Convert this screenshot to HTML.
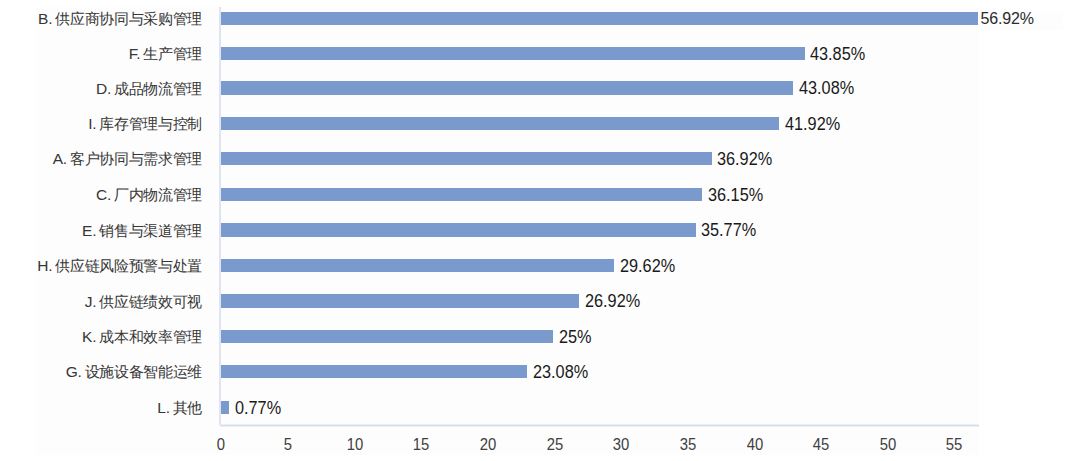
<!DOCTYPE html>
<html><head><meta charset="utf-8">
<style>
html,body{margin:0;padding:0;}
body{width:1066px;height:461px;background:#ffffff;position:relative;overflow:hidden;font-family:"Liberation Sans",sans-serif;}
.area{position:absolute;left:36px;top:7px;width:943px;height:448px;background:#fdfdfd;}
.lbox{position:absolute;left:978px;top:11px;width:85px;height:19px;background:#fdfdfd;}
.vax{position:absolute;left:219px;top:7px;width:2px;height:418px;background:#e0e4f2;}
.hax{position:absolute;left:220px;top:425px;width:759px;height:1px;background:#d3d9ee;box-shadow:0 -1px 0 #eef0f8,0 1px 0 #eef0f8;}
.bar{position:absolute;left:220.65px;height:13.7px;background:#7a9ace;}
.cat{position:absolute;right:864.0px;white-space:nowrap;font-size:15px;line-height:20px;margin-top:-9.3px;color:#363636;}
.cat .pre{font-size:15.5px;letter-spacing:-0.2px;margin-right:3.0px;}
.cat .cjk{letter-spacing:-0.31px;margin-right:-0.2px;}
.val{position:absolute;white-space:nowrap;font-size:17.5px;transform:scaleX(0.93);transform-origin:0 50%;line-height:20px;margin-top:-9.6px;color:#1a1a1a;}
.val.v0{font-size:16px;transform:none;letter-spacing:-0.15px;margin-top:-9.2px;color:#2b2b2b;}
.tick{position:absolute;top:434px;width:40px;margin-left:-20px;text-align:center;font-size:16.5px;transform:scaleX(0.9);line-height:20px;color:#404040;}
</style></head><body>
<div class="area"></div>
<div class="lbox"></div>
<div class="vax"></div>
<div class="hax"></div>
<div class="bar" style="top:11.50px;height:13.50px;width:757.25px"></div>
<div class="cat" style="top:18.25px"><span class="pre">B.</span><span class="cjk">供应商协同与采购管理</span></div>
<div class="val v0" style="top:18.25px;left:980.40px">56.92%</div>
<div class="bar" style="top:46.77px;height:13.42px;width:584.25px"></div>
<div class="cat" style="top:53.48px"><span class="pre">F.</span><span class="cjk">生产管理</span></div>
<div class="val" style="top:53.48px;left:810.40px">43.85%</div>
<div class="bar" style="top:81.08px;height:13.52px;width:572.75px"></div>
<div class="cat" style="top:87.84px"><span class="pre">D.</span><span class="cjk">成品物流管理</span></div>
<div class="val" style="top:87.84px;left:798.90px">43.08%</div>
<div class="bar" style="top:116.53px;height:13.53px;width:558.35px"></div>
<div class="cat" style="top:123.30px"><span class="pre">I.</span><span class="cjk">库存管理与控制</span></div>
<div class="val" style="top:123.30px;left:784.50px">41.92%</div>
<div class="bar" style="top:151.90px;height:13.30px;width:491.25px"></div>
<div class="cat" style="top:158.55px"><span class="pre">A.</span><span class="cjk">客户协同与需求管理</span></div>
<div class="val" style="top:158.55px;left:717.40px">36.92%</div>
<div class="bar" style="top:187.53px;height:13.53px;width:481.35px"></div>
<div class="cat" style="top:194.30px"><span class="pre">C.</span><span class="cjk">厂内物流管理</span></div>
<div class="val" style="top:194.30px;left:707.50px">36.15%</div>
<div class="bar" style="top:222.80px;height:14.05px;width:475.25px"></div>
<div class="cat" style="top:229.82px"><span class="pre">E.</span><span class="cjk">销售与渠道管理</span></div>
<div class="val" style="top:229.82px;left:701.40px">35.77%</div>
<div class="bar" style="top:258.80px;height:13.60px;width:393.75px"></div>
<div class="cat" style="top:265.60px"><span class="pre">H.</span><span class="cjk">供应链风险预警与处置</span></div>
<div class="val" style="top:265.60px;left:619.90px">29.62%</div>
<div class="bar" style="top:294.30px;height:13.44px;width:358.35px"></div>
<div class="cat" style="top:301.02px"><span class="pre">J.</span><span class="cjk">供应链绩效可视</span></div>
<div class="val" style="top:301.02px;left:584.50px">26.92%</div>
<div class="bar" style="top:329.66px;height:13.53px;width:332.65px"></div>
<div class="cat" style="top:336.43px"><span class="pre">K.</span><span class="cjk">成本和效率管理</span></div>
<div class="val" style="top:336.43px;left:558.80px">25%</div>
<div class="bar" style="top:364.90px;height:13.50px;width:306.75px"></div>
<div class="cat" style="top:371.65px"><span class="pre">G.</span><span class="cjk">设施设备智能运维</span></div>
<div class="val" style="top:371.65px;left:532.90px">23.08%</div>
<div class="bar" style="top:400.80px;height:12.90px;width:8.45px"></div>
<div class="cat" style="top:407.25px"><span class="pre">L.</span><span class="cjk">其他</span></div>
<div class="val" style="top:407.25px;left:234.60px">0.77%</div>
<div class="tick" style="left:221.30px">0</div>
<div class="tick" style="left:287.95px">5</div>
<div class="tick" style="left:354.60px">10</div>
<div class="tick" style="left:421.25px">15</div>
<div class="tick" style="left:487.90px">20</div>
<div class="tick" style="left:554.55px">25</div>
<div class="tick" style="left:621.20px">30</div>
<div class="tick" style="left:687.85px">35</div>
<div class="tick" style="left:754.50px">40</div>
<div class="tick" style="left:821.15px">45</div>
<div class="tick" style="left:887.80px">50</div>
<div class="tick" style="left:954.45px">55</div>
</body></html>
